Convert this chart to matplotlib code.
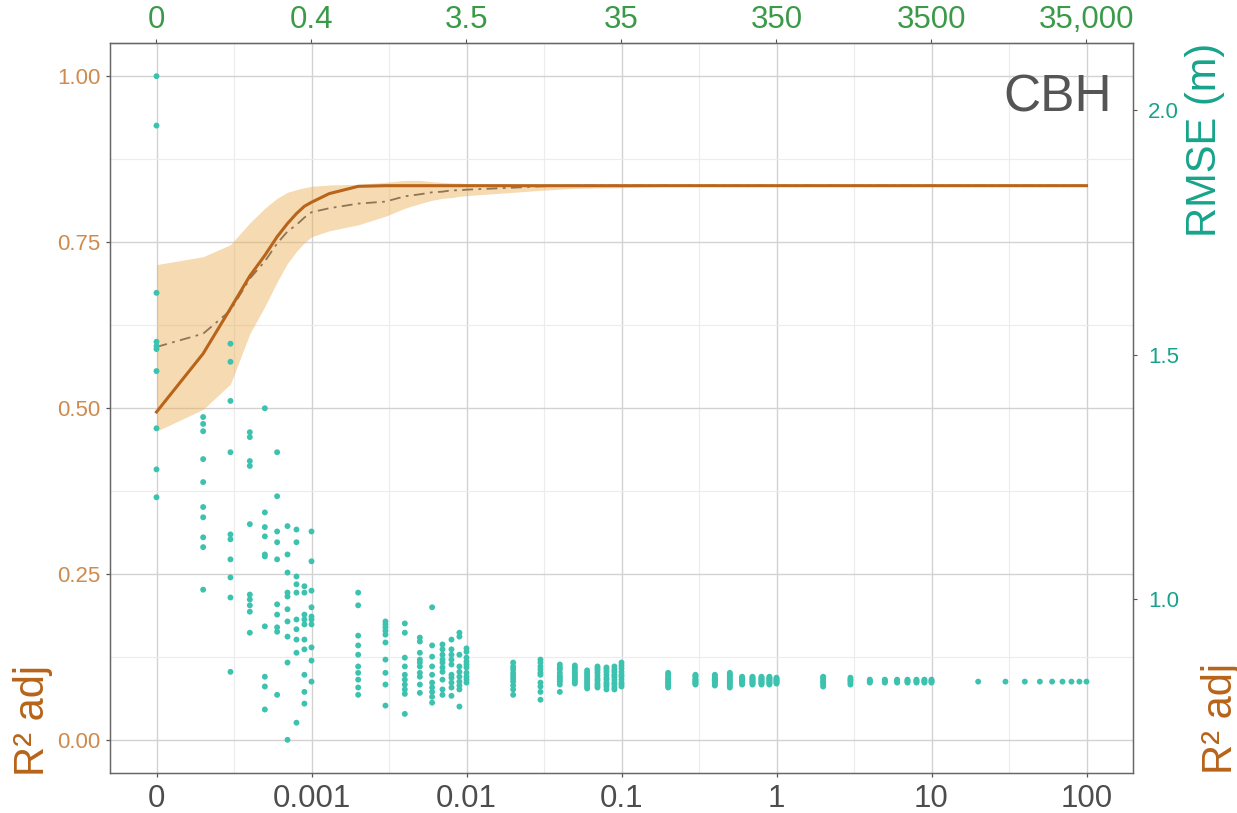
import matplotlib
matplotlib.use("Agg")
import matplotlib.pyplot as plt
from matplotlib.ticker import FixedLocator, NullLocator, NullFormatter
import numpy as np

plt.rcParams['font.family'] = ['Liberation Sans', 'DejaVu Sans']

# penalty grid (first value shown as "0")
LAMBDA = [1e-4, 2e-4, 3e-4, 4e-4, 5e-4, 6e-4, 7e-4, 8e-4, 9e-4,
          1e-3, 2e-3, 3e-3, 4e-3, 5e-3, 6e-3, 7e-3, 8e-3, 9e-3,
          1e-2, 2e-2, 3e-2, 4e-2, 5e-2, 6e-2, 7e-2, 8e-2, 9e-2,
          0.1, 0.2, 0.3, 0.4, 0.5, 0.6, 0.7, 0.8, 0.9,
          1, 2, 3, 4, 5, 6, 7, 8, 9,
          10, 20, 30, 40, 50, 60, 70, 80, 90, 100]

# RMSE (m) of each cross-validation run, one list per lambda
RMSE_RUNS = [
    [2.070, 1.969, 1.627, 1.527, 1.518, 1.512, 1.467, 1.350, 1.266, 1.209],
    [1.373, 1.359, 1.344, 1.287, 1.240, 1.189, 1.168, 1.127, 1.107, 1.020],
    [1.523, 1.486, 1.406, 1.301, 1.133, 1.123, 1.082, 1.045, 1.004, 0.852],
    [1.342, 1.332, 1.283, 1.273, 1.154, 1.010, 1.000, 0.988, 0.975, 0.932],
    [1.391, 1.178, 1.148, 1.129, 1.092, 1.088, 0.945, 0.842, 0.822, 0.775],
    [1.301, 1.211, 1.139, 1.117, 1.082, 0.990, 0.969, 0.943, 0.934, 0.805],
    [1.150, 1.092, 1.055, 1.014, 1.006, 0.980, 0.955, 0.924, 0.871, 0.713],
    [1.143, 1.117, 1.047, 1.031, 1.014, 0.959, 0.939, 0.918, 0.891, 0.748],
    [1.027, 1.014, 0.969, 0.959, 0.949, 0.918, 0.898, 0.846, 0.811, 0.787],
    [1.139, 1.078, 1.018, 0.984, 0.965, 0.959, 0.949, 0.902, 0.875, 0.832],
    [1.014, 0.988, 0.926, 0.906, 0.887, 0.863, 0.850, 0.836, 0.820, 0.805],
    [0.955, 0.949, 0.943, 0.936, 0.928, 0.912, 0.877, 0.850, 0.826, 0.783],
    [0.951, 0.932, 0.881, 0.863, 0.846, 0.836, 0.826, 0.816, 0.807, 0.766],
    [0.922, 0.914, 0.891, 0.877, 0.871, 0.863, 0.850, 0.842, 0.826, 0.809],
    [0.984, 0.906, 0.883, 0.863, 0.846, 0.830, 0.820, 0.811, 0.801, 0.789],
    [0.908, 0.898, 0.887, 0.877, 0.871, 0.861, 0.852, 0.836, 0.816, 0.805],
    [0.918, 0.898, 0.887, 0.877, 0.867, 0.846, 0.840, 0.830, 0.820, 0.803],
    [0.932, 0.924, 0.887, 0.863, 0.852, 0.842, 0.832, 0.824, 0.816, 0.781],
    [0.900, 0.893, 0.881, 0.873, 0.867, 0.861, 0.850, 0.842, 0.836, 0.830],
    [0.871, 0.863, 0.857, 0.850, 0.844, 0.838, 0.832, 0.824, 0.816, 0.805],
    [0.877, 0.871, 0.863, 0.857, 0.850, 0.846, 0.830, 0.822, 0.811, 0.795],
    [0.867, 0.861, 0.857, 0.850, 0.844, 0.840, 0.836, 0.832, 0.826, 0.811],
    [0.865, 0.861, 0.857, 0.852, 0.848, 0.844, 0.840, 0.836, 0.832, 0.828],
    [0.855, 0.850, 0.846, 0.842, 0.838, 0.834, 0.830, 0.826, 0.822, 0.818],
    [0.863, 0.859, 0.855, 0.850, 0.844, 0.838, 0.834, 0.828, 0.824, 0.820],
    [0.861, 0.857, 0.852, 0.846, 0.840, 0.836, 0.830, 0.826, 0.822, 0.816],
    [0.863, 0.857, 0.852, 0.846, 0.842, 0.836, 0.830, 0.826, 0.820, 0.816],
    [0.871, 0.865, 0.859, 0.852, 0.846, 0.842, 0.836, 0.830, 0.826, 0.822],
    [0.850, 0.846, 0.842, 0.838, 0.836, 0.832, 0.830, 0.826, 0.824, 0.820],
    [0.846, 0.844, 0.842, 0.838, 0.836, 0.834, 0.832, 0.830, 0.828, 0.826],
    [0.846, 0.844, 0.840, 0.838, 0.836, 0.834, 0.832, 0.830, 0.826, 0.824],
    [0.850, 0.846, 0.844, 0.840, 0.836, 0.834, 0.830, 0.828, 0.824, 0.820],
    [0.842, 0.840, 0.838, 0.836, 0.834, 0.832, 0.830, 0.828, 0.826],
    [0.842, 0.840, 0.838, 0.836, 0.834, 0.832, 0.830, 0.828, 0.826],
    [0.842, 0.840, 0.838, 0.836, 0.834, 0.832, 0.830, 0.828, 0.826],
    [0.842, 0.840, 0.838, 0.836, 0.834, 0.832, 0.830, 0.828, 0.826],
    [0.840, 0.838, 0.836, 0.834, 0.832, 0.830, 0.828],
    [0.842, 0.840, 0.836, 0.832, 0.830, 0.826, 0.822],
    [0.840, 0.836, 0.834, 0.830, 0.826],
    [0.836, 0.834, 0.832, 0.830],
    [0.836, 0.834, 0.832, 0.830],
    [0.836, 0.834, 0.832, 0.830],
    [0.836, 0.834, 0.832, 0.830],
    [0.836, 0.834, 0.832, 0.830],
    [0.836, 0.834, 0.832, 0.830],
    [0.836, 0.834, 0.832, 0.830],
    [0.832], [0.832], [0.832], [0.832], [0.832], [0.832], [0.832], [0.832], [0.832],
]

# adjusted R2 summary along the penalty path
CURVE_LAMBDA = [1e-4, 2e-4, 3e-4, 4e-4, 5e-4, 6e-4, 7e-4, 8e-4, 9e-4,
                1e-3, 1.3e-3, 2e-3, 3e-3, 4e-3, 5e-3, 6e-3, 7e-3, 8e-3, 9e-3,
                1e-2, 2e-2, 3e-2, 5e-2, 0.1, 0.2, 1, 100]
R2_MEAN = [0.494, 0.582, 0.650, 0.699, 0.730, 0.758, 0.778, 0.793, 0.804,
           0.810, 0.823, 0.834, 0.835, 0.835, 0.835, 0.835, 0.835, 0.835, 0.835,
           0.835, 0.835, 0.835, 0.835, 0.835, 0.835, 0.835, 0.835]
R2_MEDIAN = [0.592, 0.612, 0.647, 0.695, 0.721, 0.748, 0.766, 0.776, 0.787,
             0.795, 0.801, 0.808, 0.811, 0.819, 0.822, 0.825, 0.826, 0.828, 0.828,
             0.829, 0.832, 0.834, 0.835, 0.835, 0.835, 0.835, 0.835]
R2_UPPER = [0.716, 0.728, 0.746, 0.779, 0.801, 0.816, 0.825, 0.829, 0.832,
            0.834, 0.836, 0.837, 0.840, 0.843, 0.843, 0.841, 0.840, 0.839, 0.839,
            0.838, 0.837, 0.835, 0.835, 0.835, 0.835, 0.835, 0.835]
R2_LOWER = [0.465, 0.498, 0.536, 0.612, 0.653, 0.690, 0.718, 0.736, 0.749,
            0.758, 0.767, 0.776, 0.789, 0.801, 0.808, 0.813, 0.816, 0.817, 0.819,
            0.820, 0.825, 0.828, 0.831, 0.832, 0.834, 0.835, 0.835]

X_TICKS = [1e-4, 1e-3, 1e-2, 1e-1, 1, 10, 100]
X_LABELS = ['0', '0.001', '0.01', '0.1', '1', '10', '100']
TOP_LABELS = ['0', '0.4', '3.5', '35', '350', '3500', '35,000']
R2_TICKS = [0.0, 0.25, 0.5, 0.75, 1.0]
R2_LABELS = ['0.00', '0.25', '0.50', '0.75', '1.00']
RMSE_TICKS = [1.0, 1.5, 2.0]
RMSE_LABELS = ['1.0', '1.5', '2.0']

# RMSE axis is a rescaled copy of the R2 axis (R2 0..1 -> RMSE min..max)
RMSE_MIN = 0.713
RMSE_MAX = 2.070

ORANGE = '#B8641A'
TEAL = '#17A38B'
GREEN = '#3A9A48'


def main():
    fig = plt.figure(figsize=(12.37, 8.13), dpi=100)
    ax = fig.add_axes([110 / 1237, 40 / 813, 1023 / 1237, 730 / 813])

    ax.set_xscale('log')
    ax.set_xlim(10 ** -4.3, 10 ** 2.3)
    ax.set_ylim(-0.05, 1.05)

    ax.xaxis.set_major_locator(FixedLocator(X_TICKS))
    ax.set_xticklabels(X_LABELS)
    ax.xaxis.set_minor_locator(FixedLocator(np.sqrt(np.array(X_TICKS[:-1]) * np.array(X_TICKS[1:]))))
    ax.xaxis.set_minor_formatter(NullFormatter())
    ax.set_yticks(R2_TICKS)
    ax.set_yticklabels(R2_LABELS)
    ax.yaxis.set_minor_locator(FixedLocator([0.125, 0.375, 0.625, 0.875]))

    ax.grid(which='major', color='#d2d2d2', lw=1.0)
    ax.grid(which='minor', color='#ececec', lw=0.8)
    ax.set_axisbelow(True)
    ax.tick_params(which='minor', length=0)
    ax.tick_params(which='major', length=3, width=0.9, color='#555555')
    ax.tick_params(axis='x', labelsize=22.5, labelcolor='#4d4d4d', pad=5)
    ax.tick_params(axis='y', labelsize=16, labelcolor='#CF8A4E', pad=4)
    for s in ax.spines.values():
        s.set_color('#666666')
        s.set_linewidth(1.0)

    # R2 band, mean and median
    ax.fill_between(CURVE_LAMBDA, R2_LOWER, R2_UPPER, color='#E9AD54', alpha=0.45, lw=0)
    ax.plot(CURVE_LAMBDA, R2_MEDIAN, color='#8F7455', lw=1.3, dashes=(6, 3, 1.5, 3))
    ax.plot(CURVE_LAMBDA, R2_MEAN, color=ORANGE, lw=2.2)

    # RMSE on the right-hand axis
    ax2 = ax.twinx()
    scale = RMSE_MAX - RMSE_MIN
    ax2.set_ylim(RMSE_MIN - 0.05 * scale, RMSE_MIN + 1.05 * scale)
    xs, ys = [], []
    for lam, runs in zip(LAMBDA, RMSE_RUNS):
        for r in runs:
            xs.append(lam)
            ys.append(r)
    ax2.scatter(xs, ys, s=18, color='#3CC2AE', edgecolors='none', zorder=3)
    ax2.set_yticks(RMSE_TICKS)
    ax2.set_yticklabels(RMSE_LABELS)
    ax2.yaxis.set_minor_locator(NullLocator())
    ax2.tick_params(axis='y', labelsize=16, labelcolor=TEAL, length=3, color='#555555', pad=8)
    for s in ax2.spines.values():
        s.set_color('#666666')

    # top axis with the equivalent values
    top = ax.secondary_xaxis('top')
    top.xaxis.set_major_locator(FixedLocator(X_TICKS))
    top.set_xticklabels(TOP_LABELS)
    top.xaxis.set_minor_locator(NullLocator())
    top.tick_params(labelsize=22.5, labelcolor=GREEN, length=3, color='#555555', pad=3)
    top.spines['top'].set_color('#666666')

    fig.text(33 / 1237, 1 - 720 / 813, 'R² adj', rotation=90, ha='center', va='center',
             fontsize=30, color=ORANGE)
    fig.text(1221 / 1237, 1 - 718 / 813, 'R² adj', rotation=90, ha='center', va='center',
             fontsize=30, color=ORANGE)
    fig.text(1205 / 1237, 1 - 140 / 813, 'RMSE (m)', rotation=90, ha='center', va='center',
             fontsize=30, color=TEAL)
    fig.text(1112 / 1237, 1 - 98 / 813, 'CBH', ha='right', va='center',
             fontsize=37, color='#555555')

    fig.savefig('out.png', dpi=100)


if __name__ == "__main__":
    main()
